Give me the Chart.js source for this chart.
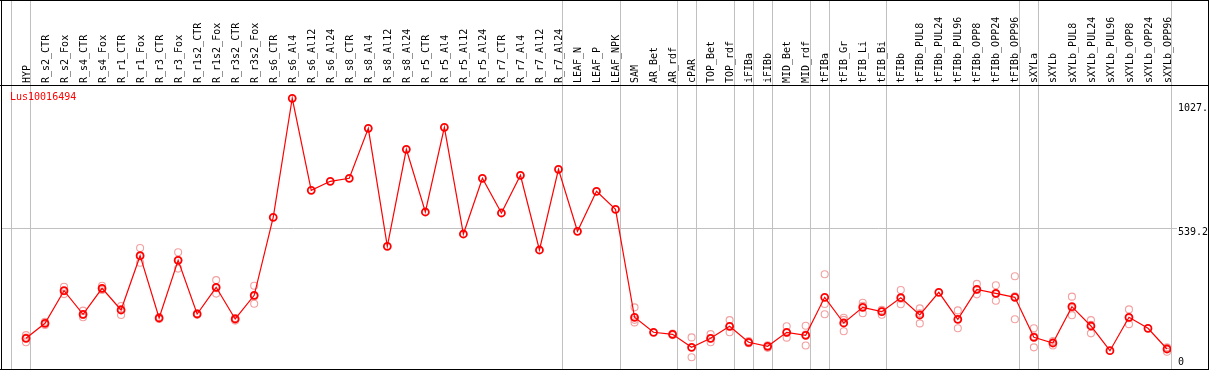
<!DOCTYPE html>
<html><head><meta charset="utf-8">
<script src="https://cdn.jsdelivr.net/npm/chart.js@4"></script>
<style>html,body{margin:0;padding:0;background:#fff;overflow:hidden}</style>
</head><body>
<canvas id="c" width="1209" height="370"></canvas>
<script>
const categories = ["HYP","R_s2_CTR","R_s2_Fox","R_s4_CTR","R_s4_Fox","R_r1_CTR","R_r1_Fox","R_r3_CTR","R_r3_Fox","R_r1s2_CTR","R_r1s2_Fox","R_r3s2_CTR","R_r3s2_Fox","R_s6_CTR","R_s6_Al4","R_s6_Al12","R_s6_Al24","R_s8_CTR","R_s8_Al4","R_s8_Al12","R_s8_Al24","R_r5_CTR","R_r5_Al4","R_r5_Al12","R_r5_Al24","R_r7_CTR","R_r7_Al4","R_r7_Al12","R_r7_Al24","LEAF_N","LEAF_P","LEAF_NPK","SAM","AR_Bet","AR_rdf","cPAR","TOP_Bet","TOP_rdf","iFIBa","iFIBb","MID_Bet","MID_rdf","tFIBa","tFIB_Gr","tFIB_Li","tFIB_Bi","tFIBb","tFIBb_PUL8","tFIBb_PUL24","tFIBb_PUL96","tFIBb_OPP8","tFIBb_OPP24","tFIBb_OPP96","sXYLa","sXYLb","sXYLb_PUL8","sXYLb_PUL24","sXYLb_PUL96","sXYLb_OPP8","sXYLb_OPP24","sXYLb_OPP96"];
const seriesName = "Lus10016494";
const means = [107.5,166.4,294.3,201.7,303.8,218.6,431.7,187.2,413.7,202.9,307.7,183.3,276.3,
  582.4,1049.5,688.4,723.7,735.5,931.7,468.6,849.3,
  603.2,935.6,516.9,735.5,599.3,747.3,454.1,770.8,
  527.5,684.5,613.8,
  190,131.1,123.2,72.2,107.5,154.6,91.8,76.1,131.1,119.3,
  268.4,167.6,229.2,211.9,266.9,199,288.1,182.1,299.8,284.1,268.4,
  111.5,89.1,231.6,155.8,58.9,190,146.8,65.5];
const rep1 = [120,160,310,216,314,234,462,183,445,200,336,187,314,
  null,null,null,null,null,null,null,null,null,null,null,null,null,null,null,null,null,null,null,
  229,null,126,111,124,179,97,80,155,157,
  359,188,247,219,297,225,null,217,321,316,351,
  147,97,271,179,null,221,null,72];
const rep2 = [92,172,281,190,297,199,404,191,381,206,283,177,243,
  null,null,null,null,null,null,null,null,null,null,null,null,null,null,null,null,null,null,null,
  170,null,120,33,92,131,88,70,110,79,
  242,135,206,200,241,166,null,147,280,255,182,
  72,79,198,127,null,163,null,55];
const rep3 = [110,null,292,199,300,222,429,null,415,null,304,186,272,
  null,null,null,null,null,null,null,null,null,null,null,null,null,null,null,null,null,null,null,
  180,null,null,null,107,154,null,null,129,122,
  202,180,235,216,263,206,null,182,298,281,272,
  115,91,226,161,null,186,null,69];
const groupEnds = [-1,0,28,31,34,35,37,38,39,41,42,45,52,53,60];
const yTicks = [0, 539.2, 1027];
const yTickLabels = ["0", "539.2", "1027."];

const MONO = "'DejaVu Sans Mono', 'Liberation Mono', monospace";
const GRID = '#c0c0c0';

const mainPts = means.map((v, i) => ({x: i, y: v}));
const repPts = [];
[rep1, rep2, rep3].forEach(arr => arr.forEach((v, i) => { if (v !== null) repPts.push({x: i, y: v}); }));

const framePlugin = {
  id: 'frame',
  beforeDatasetsDraw(chart) {
    const ctx = chart.ctx, xs = chart.scales.x, ca = chart.chartArea;
    const step = xs.getPixelForValue(1) - xs.getPixelForValue(0);
    ctx.save();
    ctx.fillStyle = GRID;
    groupEnds.forEach(g => {
      const px = Math.round(xs.getPixelForValue(g) + 0.21 * step);
      ctx.fillRect(px, 0, 1, ca.bottom);
    });
    ctx.restore();
  },
  afterDraw(chart) {
    const ctx = chart.ctx, W = chart.width, H = chart.height, ca = chart.chartArea;
    ctx.save();
    ctx.fillStyle = '#000';
    ctx.fillRect(0, 0, W, 1);
    ctx.fillRect(0, Math.round(ca.top), W, 1);
    ctx.fillRect(0, H - 1, W, 1);
    ctx.fillRect(1, 0, 1, H);
    ctx.fillRect(W - 1, 0, 1, H);
    ctx.fillStyle = '#ff0000';
    ctx.font = '10px ' + MONO;
    ctx.textBaseline = 'middle';
    ctx.textAlign = 'left';
    ctx.fillText(chart.data.datasets[0].label, 10, ca.top + 12);
    ctx.restore();
  }
};

new Chart(document.getElementById('c'), {
  type: 'line',
  data: {
    datasets: [
      {label: seriesName, data: mainPts, order: 0, borderColor: '#ff0000', borderWidth: 1.2,
       pointRadius: 3.5, pointBorderWidth: 1.8, pointBorderColor: '#ff0000', pointBackgroundColor: 'rgba(0,0,0,0)',
       tension: 0, fill: false},
      {label: 'replicates', data: repPts, order: 1, showLine: false, borderColor: '#f2a0a0',
       pointRadius: 3.5, pointBorderWidth: 1.1, pointBorderColor: '#f2a0a0', pointBackgroundColor: 'rgba(0,0,0,0)'}
    ]
  },
  options: {
    responsive: false, animation: false, devicePixelRatio: 1,
    layout: {autoPadding: false, padding: {left: 1, right: 0, top: 0, bottom: 1}},
    plugins: {legend: {display: false}, tooltip: {enabled: false}, title: {display: false}},
    scales: {
      x: {
        type: 'linear', position: 'top', min: -1.3146, max: 60.21,
        grid: {display: false, drawTicks: false}, border: {display: false},
        afterBuildTicks: s => { s.ticks = categories.map((_, i) => ({value: i})); },
        afterFit: s => { s.height = 85; s.paddingLeft = 0; s.paddingRight = 0; },
        ticks: {autoSkip: false, minRotation: 90, maxRotation: 90, padding: 2, color: '#000',
          labelOffset: 13,
          font: {family: MONO, size: 10},
          callback: v => categories[v] !== undefined ? categories[v] : ''}
      },
      y: {
        type: 'linear', position: 'right', min: -12.95, max: 1101.6,
        border: {display: false},
        afterBuildTicks: s => { s.ticks = yTicks.map(v => ({value: v})); },
        afterFit: s => { s.width = 38; s.paddingTop = 0; s.paddingBottom = 0; },
        grid: {color: c => (c.tick && c.tick.value === 539.2) ? GRID : 'rgba(0,0,0,0)', lineWidth: 1, drawTicks: true, tickLength: 6, tickColor: c => (c.tick && c.tick.value === 539.2) ? GRID : 'rgba(0,0,0,0)'},
        ticks: {padding: 1, color: '#000', labelOffset: 4,
          font: c => ({family: MONO, size: 10, lineHeight: (c.tick && c.tick.value === 0) ? '15.4px' : 1.2}),
          callback: v => { const i = yTicks.indexOf(v); const t = i >= 0 ? yTickLabels[i] : ''; return v === 0 ? [t, ''] : t; }}
      }
    }
  },
  plugins: [framePlugin]
});
</script>
</body></html>
